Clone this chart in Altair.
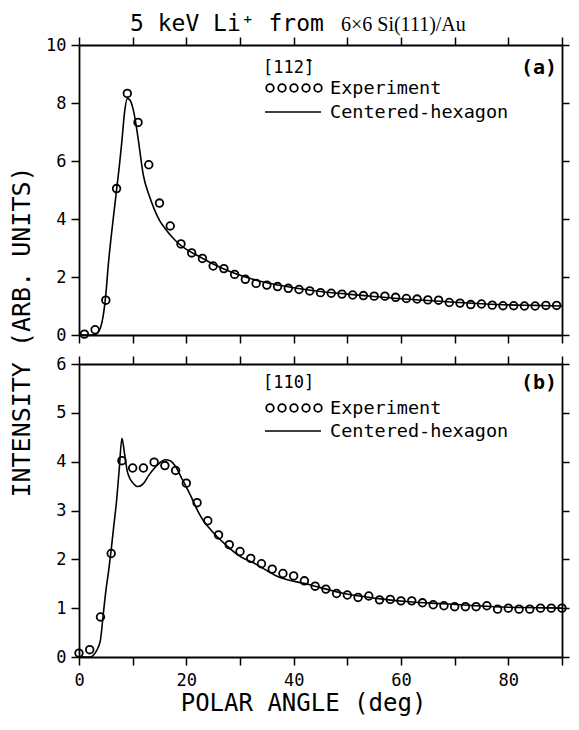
import altair as alt
import pandas as pd

# ---------------- data ----------------
a_exp_deg = list(range(1, 90, 2))
a_exp_val = [0.03, 0.18, 1.2, 5.05, 8.33, 7.33, 5.87, 4.55, 3.76, 3.14,
             2.83, 2.64, 2.38, 2.29, 2.09, 1.92, 1.78, 1.72, 1.67, 1.61,
             1.57, 1.52, 1.46, 1.44, 1.41, 1.38, 1.36, 1.34, 1.34, 1.30,
             1.26, 1.24, 1.21, 1.20, 1.12, 1.10, 1.05, 1.07, 1.03, 1.01,
             1.01, 1.00, 1.00, 1.02, 1.02]
a_fit_deg = [0, 2, 3, 3.5, 4, 4.5, 5, 5.5, 6, 6.5, 7, 7.5, 8, 8.5, 9, 9.5, 10,
             10.5, 11, 12, 13, 14, 15, 16, 18, 20, 22, 25, 28, 31, 35, 40, 45,
             50, 55, 60, 65, 70, 75, 80, 85, 90]
a_fit_val = [0, 0, 0.02, 0.08, 0.25, 0.65, 1.4, 2.5, 3.4, 4.2, 5.0, 5.8, 6.7,
             7.7, 8.15, 8.1, 7.85, 7.4, 6.8, 5.5, 4.85, 4.35, 3.95, 3.68, 3.25,
             2.95, 2.75, 2.45, 2.2, 2.0, 1.8, 1.63, 1.5, 1.41, 1.33, 1.25, 1.19,
             1.13, 1.08, 1.04, 1.02, 1.0]

b_exp_deg = list(range(0, 91, 2))
b_exp_val = [0.08, 0.15, 0.82, 2.12, 4.02, 3.87, 3.87, 3.99, 3.92, 3.82,
             3.56, 3.16, 2.79, 2.50, 2.30, 2.16, 2.02, 1.91, 1.80, 1.71,
             1.66, 1.56, 1.45, 1.39, 1.30, 1.27, 1.22, 1.25, 1.17, 1.18,
             1.15, 1.15, 1.11, 1.07, 1.05, 1.03, 1.03, 1.03, 1.05, 0.98,
             1.00, 0.98, 0.98, 1.00, 1.00, 1.00]
b_fit_deg = [0, 2, 2.5, 3, 3.5, 4, 4.5, 5, 5.5, 6, 6.5, 7, 7.5, 8, 8.5, 9, 9.5,
             10, 11, 12, 13, 14, 15, 16, 17, 17.5, 18, 19, 20, 21, 22, 23, 25,
             27.5, 30, 32.5, 37, 43, 49, 55.5, 61.5, 68, 74, 80, 85, 90]
b_fit_val = [0, 0, 0.02, 0.08, 0.18, 0.35, 0.85, 1.35, 1.75, 2.2, 2.7, 3.2,
             3.85, 4.48, 4.15, 3.8, 3.65, 3.57, 3.49, 3.55, 3.72, 3.86, 3.97,
             4.04, 4.02, 3.97, 3.9, 3.69, 3.48, 3.26, 3.02, 2.82, 2.55, 2.28,
             2.06, 1.93, 1.65, 1.48, 1.31, 1.20, 1.13, 1.09, 1.05, 1.02, 1.01,
             1.0]

x_ticks = list(range(0, 91, 10))

MONO = "DejaVu Sans Mono"
SERIF = "Liberation Serif"
PW = 483
dummy = pd.DataFrame({"d": [0]})


def txt(text, x, y, font=MONO, size=17, align="left", weight="normal",
        baseline="middle", angle=0):
    return alt.Chart(dummy).mark_text(
        text=text, font=font, fontSize=size, align=align, baseline=baseline,
        fontWeight=weight, color="black", angle=angle
    ).encode(x=alt.value(x), y=alt.value(y))


def legend_items(dir_label, tag, y_dir, y_exp, y_fit):
    items = [txt(dir_label, 184, y_dir, size=17),
             txt(tag, 478, y_dir, size=20, align="right", weight="bold"),
             txt("Experiment", 251, y_exp, size=18.5),
             txt("Centered-hexagon", 251, y_fit, size=18.5)]
    for cx in [191, 203, 215, 227, 239]:
        items.append(alt.Chart(dummy).mark_point(
            shape="circle", filled=False, size=58, strokeWidth=1.8,
            color="black", opacity=1
        ).encode(x=alt.value(cx), y=alt.value(y_exp)))
    items.append(alt.Chart(dummy).mark_rule(color="black", strokeWidth=1.6).encode(
        x=alt.value(186), x2=alt.value(242), y=alt.value(y_fit)))
    return items


def panel(exp_deg, exp_val, fit_deg, fit_val, ymax, ystep, h, is_bottom, extra):
    exp_df = pd.DataFrame({"deg": exp_deg, "val": exp_val})
    fit_df = pd.DataFrame({"deg": fit_deg, "val": fit_val})
    xs = alt.Scale(domain=[0, 90], nice=False, zero=False)
    ys = alt.Scale(domain=[0, ymax], nice=False)
    y_ticks = list(range(0, ymax + 1, ystep))
    base = dict(domainColor="black", domainWidth=1.8, tickColor="black",
                tickWidth=1.5, grid=False, labelFont=MONO,
                labelFontSize=17, labelColor="black")
    if is_bottom:
        xb = alt.Axis(orient="bottom", values=x_ticks, labelFlush=False,
                      labelExpr="datum.value % 20 == 0 ? datum.label : ''",
                      labelPadding=7, title="POLAR ANGLE (deg)", titleFont=MONO,
                      titleFontSize=24, titleFontWeight="normal",
                      titleColor="black", titleX=224, titleY=53,
                      titleBaseline="alphabetic", tickSize=8, **base)
        xenc = alt.X("deg:Q", scale=xs, axis=xb)
    else:
        xb = alt.Axis(orient="bottom", values=x_ticks, labels=False,
                      tickSize=8, **base)
        xenc = alt.X("deg:Q", scale=xs, axis=xb, title=None)
    yl = alt.Axis(orient="left", values=y_ticks, labelPadding=5, tickSize=8,
                  **base)
    xt = alt.Axis(orient="top", values=x_ticks, labels=False, tickSize=8,
                  **base)
    yr = alt.Axis(orient="right", values=y_ticks, labels=False, tickSize=7,
                  **base)

    line = alt.Chart(fit_df).mark_line(
        color="black", strokeWidth=1.6, interpolate="monotone"
    ).encode(x=xenc, y=alt.Y("val:Q", scale=ys, axis=yl, title=None))
    pts = alt.Chart(exp_df).mark_point(
        shape="circle", filled=False, size=58, strokeWidth=1.8, color="black",
        opacity=1
    ).encode(x=alt.X("deg:Q", scale=xs, axis=xt, title=None),
             y=alt.Y("val:Q", scale=ys, axis=yr, title=None))
    return alt.layer(line, pts, *extra).resolve_axis(
        x="independent", y="independent").properties(width=PW, height=h)


top_extra = legend_items("[112\u0304]", "(a)", 23, 43, 67) + [
    txt("5 keV Li\u207a from", 51, -14, size=23, baseline="alphabetic"),
    txt("6\u00d76 Si(111)/Au", 262, -14, font=SERIF, size=20,
        baseline="alphabetic"),
    txt("INTENSITY (ARB. UNITS)", -57, 287, size=25, angle=270,
        align="center"),
]
bot_extra = legend_items("[1\u030410]", "(b)", 19, 44, 67)

top = panel(a_exp_deg, a_exp_val, a_fit_deg, a_fit_val, 10, 2, 290, False, top_extra)
bottom = panel(b_exp_deg, b_exp_val, b_fit_deg, b_fit_val, 6, 1, 293, True, bot_extra)

chart = alt.vconcat(top, bottom, spacing=29, bounds="flush").properties(
    padding={"left": 1, "top": 4, "right": 0, "bottom": 0}
).configure_view(strokeWidth=0).configure(background="white")

chart.save("out.html", embed_options={"renderer": "svg", "actions": False})
